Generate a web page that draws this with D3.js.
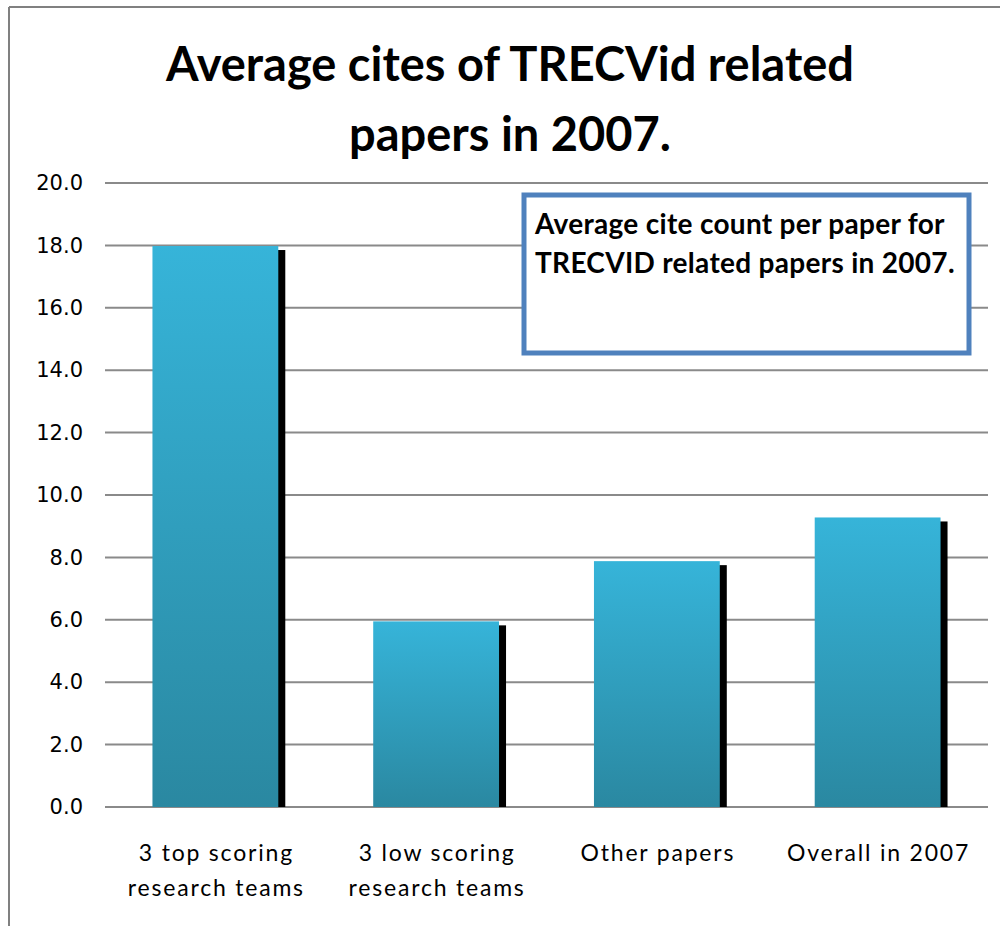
<!DOCTYPE html>
<html>
<head>
<meta charset="utf-8">
<script src="https://cdn.jsdelivr.net/npm/d3@7"></script>
<style>
  html, body { margin: 0; padding: 0; background: #fff; }
  svg { display: block; }
</style>
</head>
<body>
<svg id="chart" width="1000" height="926"></svg>
<script>
const categories = [["3 top scoring", "research teams"], ["3 low scoring", "research teams"], ["Other papers"], ["Overall in 2007"]];
const values = [17.98, 5.95, 7.88, 9.28];
const yTicks = [0, 2, 4, 6, 8, 10, 12, 14, 16, 18, 20];
const titleLines = ["Average cites of TRECVid related", "papers in 2007."];
const noteLines = ["Average cite count per paper for", "TRECVID related papers in 2007."];

const svg = d3.select("#chart");
const W = 1000, H = 926;
const margin = { left: 105, right: 12, top: 183, bottom: 119 };

// outer frame (top and left edges visible)
svg.append("line").attr("x1", 9).attr("x2", W).attr("y1", 7).attr("y2", 7)
  .attr("stroke", "#808080").attr("stroke-width", 2);
svg.append("line").attr("x1", 9).attr("x2", 9).attr("y1", 7).attr("y2", H)
  .attr("stroke", "#808080").attr("stroke-width", 2);

const defs = svg.append("defs");
const grad = defs.append("linearGradient").attr("id", "barGrad")
  .attr("x1", 0).attr("y1", 0).attr("x2", 0).attr("y2", 1);
grad.append("stop").attr("offset", "0%").attr("stop-color", "#36B4D9");
grad.append("stop").attr("offset", "100%").attr("stop-color", "#2A88A1");

const x = d3.scaleBand().domain(d3.range(categories.length))
  .range([margin.left, 988]).paddingInner(0.43).paddingOuter(0.215);
const y = d3.scaleLinear().domain([0, 20]).range([807, 183]);

// gridlines
svg.append("g").selectAll("line").data(yTicks).join("line")
  .attr("x1", margin.left).attr("x2", 988)
  .attr("y1", d => y(d)).attr("y2", d => y(d))
  .attr("stroke", "#8a8a8a").attr("stroke-width", 2);

// y tick labels
const yAxis = d3.axisLeft(y).tickValues(yTicks).tickFormat(d3.format(".1f")).tickSize(0).tickPadding(0);
const ya = svg.append("g").attr("transform", "translate(83,0)").call(yAxis);
ya.select(".domain").remove();
ya.selectAll("text").attr("font-family", "DejaVu Sans, Verdana, sans-serif")
  .attr("font-size", 21).attr("fill", "#000");

// shadows
svg.append("g").selectAll("rect").data(values).join("rect")
  .attr("x", (d, i) => x(i) + 7)
  .attr("y", d => y(d) + 4)
  .attr("width", x.bandwidth())
  .attr("height", d => y(0) - y(d) - 4)
  .attr("fill", "#000");

// bars
svg.append("g").selectAll("rect").data(values).join("rect")
  .attr("x", (d, i) => x(i))
  .attr("y", d => y(d))
  .attr("width", x.bandwidth())
  .attr("height", d => y(0) - y(d))
  .attr("fill", "url(#barGrad)");

// category labels
const cat = svg.append("g").selectAll("text").data(categories).join("text")
  .attr("x", (d, i) => x(i) + x.bandwidth() / 2 + 1)
  .attr("y", 861)
  .attr("text-anchor", "middle")
  .attr("font-family", "Lato, sans-serif")
  .attr("font-size", 23)
  .attr("letter-spacing", 1.8)
  .attr("fill", "#000");
cat.selectAll("tspan").data(d => d).join("tspan")
  .attr("x", function () { return d3.select(this.parentNode).attr("x"); })
  .attr("dy", (d, i) => i === 0 ? 0 : 35)
  .text(d => d);

// title
svg.append("g").selectAll("text").data(titleLines).join("text")
  .attr("x", 510)
  .attr("y", (d, i) => 81 + i * 70)
  .attr("text-anchor", "middle")
  .attr("font-family", "Lato, sans-serif")
  .attr("font-weight", "bold")
  .attr("font-size", 47)
  .attr("fill", "#000")
  .text(d => d);

// annotation box
svg.append("rect").attr("x", 524).attr("y", 195).attr("width", 445).attr("height", 158)
  .attr("fill", "#fff").attr("stroke", "#4F81BD").attr("stroke-width", 5);
svg.append("g").selectAll("text").data(noteLines).join("text")
  .attr("x", 535)
  .attr("y", (d, i) => 234 + i * 39)
  .attr("font-family", "Lato, sans-serif")
  .attr("font-weight", "bold")
  .attr("font-size", 28)
  .attr("letter-spacing", 0.3)
  .attr("fill", "#000")
  .text(d => d);
</script>
</body>
</html>
